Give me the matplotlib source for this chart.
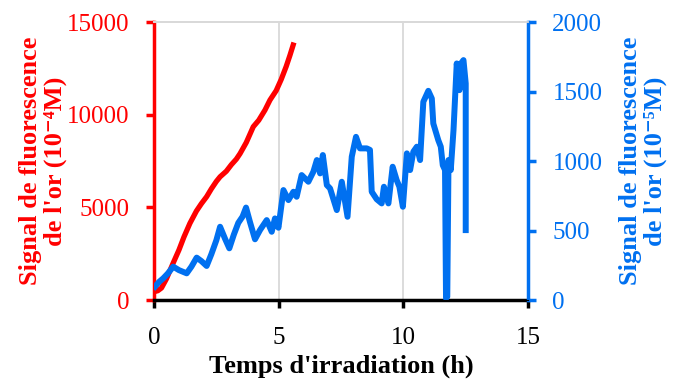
import matplotlib
matplotlib.use("Agg")
import matplotlib.pyplot as plt

# signal de l'or 10^-4 M (axe gauche)
t_red = [0.0, 0.15, 0.3, 0.5, 0.77, 1.0, 1.2, 1.44, 1.7, 1.9, 2.11, 2.3, 2.5, 2.65,
         2.9, 3.1, 3.3, 3.45, 3.7, 3.98, 4.2, 4.45, 4.65, 4.9, 5.1, 5.3, 5.45, 5.58]
v_red = [450, 500, 650, 1150, 2000, 2700, 3400, 4140, 4800, 5200, 5575, 6000, 6400, 6650,
         6950, 7300, 7600, 7900, 8500, 9350, 9700, 10250, 10790, 11300, 11900, 12600, 13200, 13760]

# signal de l'or 10^-5 M (axe droit)
t_blue = [0.04, 0.2, 0.37, 0.55, 0.77, 1.0, 1.31, 1.5, 1.71, 1.9, 2.11, 2.3, 2.5, 2.65,
          2.85, 3.02, 3.2, 3.38, 3.55, 3.69, 3.85, 4.05, 4.25, 4.52, 4.72, 4.85, 4.99,
          5.19, 5.39, 5.59, 5.72, 5.92, 6.19, 6.39, 6.53, 6.66, 6.77, 6.93, 7.06, 7.33,
          7.53, 7.76, 7.93, 8.10, 8.26, 8.53, 8.66, 8.73, 8.93, 9.13, 9.22, 9.40, 9.57,
          9.73, 9.84, 9.98, 10.14, 10.27, 10.40, 10.54, 10.67, 10.80, 11.0, 11.14, 11.20,
          11.40, 11.50, 11.58, 11.67, 11.71, 11.76, 11.81, 11.90, 12.01, 12.14, 12.25,
          12.31, 12.41, 12.50, 12.50]
v_blue = [96, 130, 156, 190, 240, 215, 192, 240, 305, 280, 245, 330, 430, 527,
          440, 372, 470, 555, 600, 665, 560, 437, 503, 575, 491, 587, 520,
          791, 719, 779, 743, 899, 851, 923, 1007, 911, 1043, 827, 803, 647,
          851, 599, 1031, 1174, 1091, 1091, 1080, 779, 725, 695, 815, 695, 959,
          863, 815, 671, 1055, 935, 1067, 1103, 1007, 1426, 1505, 1450, 1270,
          1150, 1103, 970, 935, 12, 24, 1007, 935, 1222, 1702, 1510,
          1702, 1726, 1558, 503]

red = '#ff0000'
blue = '#0070f0'
plt.rcParams['font.family'] = ['Liberation Serif', 'DejaVu Serif']

fig = plt.figure(figsize=(6.77, 3.8), dpi=100)
ax = fig.add_axes([0.2275, 0.2105, 0.5525, 0.7315])
ax2 = ax.twinx()

ax.plot(t_red, v_red, color=red, lw=3.8, solid_joinstyle='round')
ax2.plot(t_blue, v_blue, color=blue, lw=4.3, solid_joinstyle='round')

ax.set_xlim(0, 15)
ax.set_ylim(0, 15000)
ax2.set_ylim(0, 2000)
ax.set_xticks([0, 5, 10, 15])
ax.set_yticks([0, 5000, 10000, 15000])
ax2.set_yticks([0, 500, 1000, 1500, 2000])

for x in [5, 10]:
    ax.axvline(x, color='#d9d9d9', lw=1.3, zorder=0)

for a in (ax, ax2):
    a.spines['top'].set_color('#d9d9d9')
    a.spines['top'].set_linewidth(1.3)
ax.spines['left'].set_color(red)
ax.spines['left'].set_linewidth(2.5)
ax.spines['bottom'].set_color('black')
ax.spines['bottom'].set_linewidth(2.5)
ax2.spines['right'].set_color(blue)
ax2.spines['right'].set_linewidth(2.5)
ax2.spines['left'].set_visible(False)
ax.spines['right'].set_visible(False)

ax.tick_params(axis='y', colors=red, labelsize=18, width=2.5, length=5.5, pad=12)
ax.tick_params(axis='x', colors='black', labelsize=18, width=2.5, length=5.5, pad=14)
ax2.tick_params(axis='y', colors=blue, labelsize=18, width=2.5, length=5.5, pad=12)

ax.set_xlabel("Temps d'irradiation (h)", fontsize=19, fontweight='bold', labelpad=4)
ax.set_ylabel("Signal de fluorescence\nde l'or (10⁻⁴M)", color=red,
              fontsize=19, fontweight='bold', labelpad=0, linespacing=1.1)
ax2.set_ylabel("Signal de fluorescence\nde l'or (10⁻⁵M)", color=blue,
               fontsize=19, fontweight='bold', labelpad=12, linespacing=1.1)

fig.savefig('out.png', dpi=100)
